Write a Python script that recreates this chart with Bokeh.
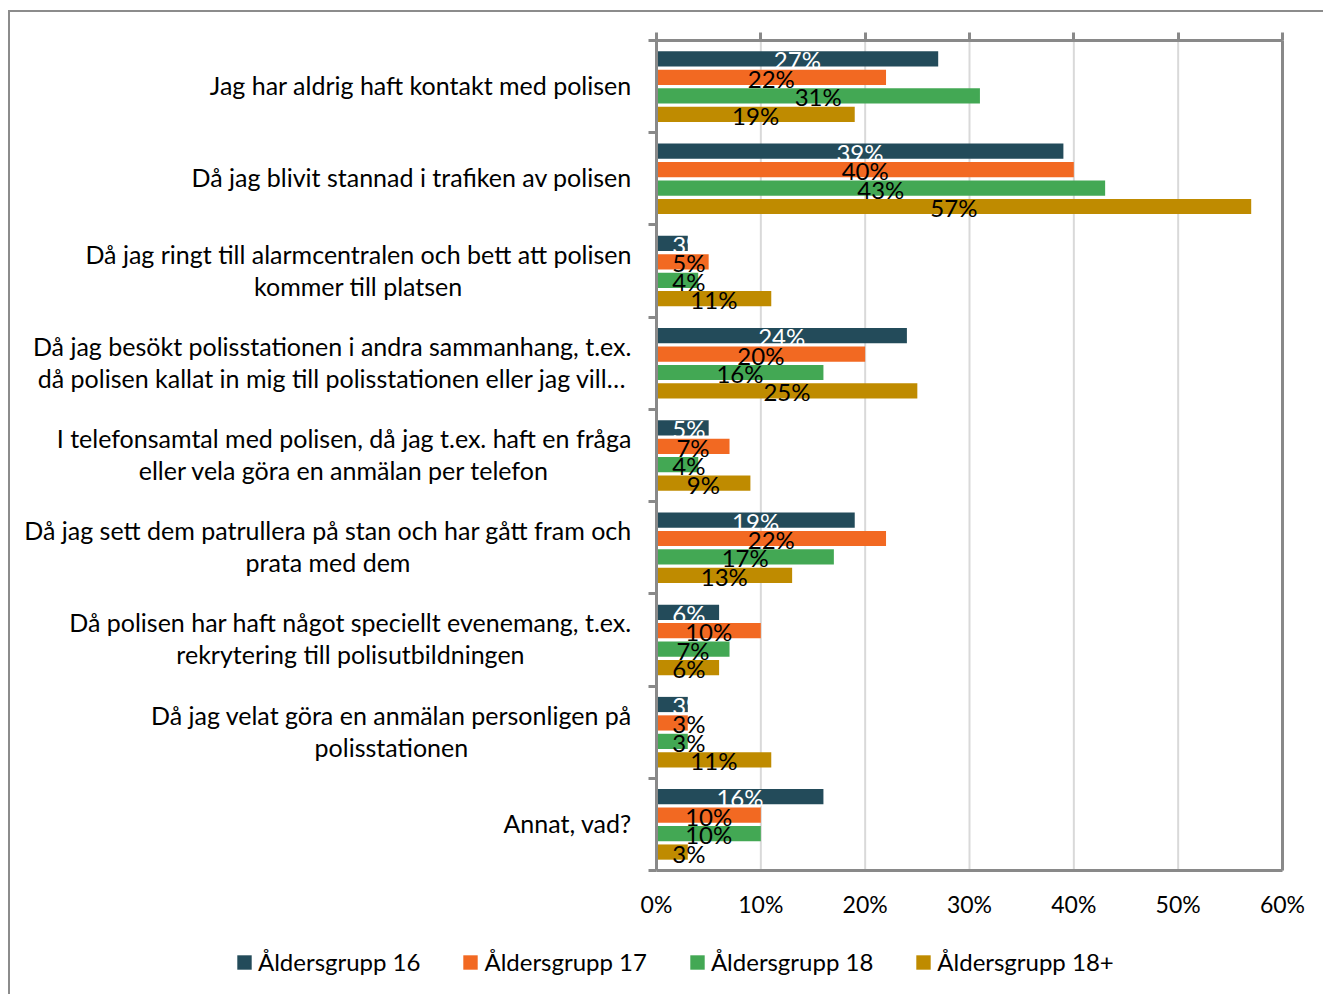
import glob
from bokeh.plotting import figure
from bokeh.models import (Range1d, FixedTicker, LinearAxis, ColumnDataSource, Legend, LegendItem)
from bokeh.core.properties import value
from bokeh.embed import file_html
from bokeh.resources import INLINE

categories = [
    "Jag har aldrig haft kontakt med polisen",
    "Då jag blivit stannad i trafiken av polisen",
    "Då jag ringt till alarmcentralen och bett att polisen\nkommer till platsen",
    "Då jag besökt polisstationen i andra sammanhang, t.ex.\ndå polisen kallat in mig till polisstationen eller jag vill…",
    "I telefonsamtal med polisen, då jag t.ex. haft en fråga\neller vela göra en anmälan per telefon",
    "Då jag sett dem patrullera på stan och har gått fram och\nprata med dem",
    "Då polisen har haft något speciellt evenemang, t.ex.\nrekrytering till polisutbildningen",
    "Då jag velat göra en anmälan personligen på\npolisstationen",
    "Annat, vad?",
]
series_names = ["Åldersgrupp 16", "Åldersgrupp 17", "Åldersgrupp 18", "Åldersgrupp 18+"]
age16 = [27, 39, 3, 24, 5, 19, 6, 3, 16]
age17 = [22, 40, 5, 20, 7, 22, 10, 3, 10]
age18 = [31, 43, 4, 16, 4, 17, 7, 3, 10]
age18p = [19, 57, 11, 25, 9, 13, 6, 11, 3]
x_ticks = [0, 10, 20, 30, 40, 50, 60]

colors = ["#234B5A", "#F26922", "#43A854", "#BF8B00"]
label_colors = ["white", "black", "black", "black"]
FONT = "Lato"
CAT_SIZE = 25
BAR_SIZE = 24
AXIS_SIZE = 23
LEG_SIZE = 24
GRAY = "#898989"
BORDER = "#8C8C8C"
GRID = "#D9D9D9"
LABEL_MIN_X = 3.1   # bar labels are kept clear of the axis line

# ---- text measurement (to right-align each label block with its lines centred) ----
_font = None
try:
    from PIL import ImageFont
    allf = glob.glob("/usr/share/fonts/**/*.ttf", recursive=True) + \
        glob.glob("/usr/local/share/fonts/**/*.ttf", recursive=True)
    cands = [f for f in allf if f.split("/")[-1].lower() in ("lato-regular.ttf", "lato-reg.ttf")]
    if not cands:
        cands = [f for f in allf if "lato" in f.lower() and "regular" in f.lower()]
    if cands:
        _font = ImageFont.truetype(cands[0], CAT_SIZE)
except Exception:
    _font = None


def text_width(s):
    if _font is not None:
        try:
            return _font.getlength(s)
        except Exception:
            pass
    return len(s) * CAT_SIZE * 0.48


n = len(categories)

# ---- geometry (pixels of the 1323x994 canvas) ----
W, H = 1323, 994
PL, PR, PT, PB = 656, 1282, 40, 870
XMAX = 60
x_range = Range1d(-PL * XMAX / (PR - PL), (W - PL) * XMAX / (PR - PL))
y_range = Range1d(n + (H - PB) * n / (PB - PT), -PT * n / (PB - PT))


def px_x(px):
    return (px - PL) * XMAX / (PR - PL)


def px_y(py):
    return (py - PT) * n / (PB - PT)


p = figure(width=W, height=H, output_backend="svg", toolbar_location=None, title=None,
           x_range=x_range, y_range=y_range, min_border=0)
p.background_fill_color = "white"
p.border_fill_color = "white"
p.outline_line_color = None
p.grid.visible = False

# outer chart border (only its left and top edges fall inside the picture)
p.segment(x0=[px_x(8.5), px_x(7.5)], y0=[px_y(9.5), px_y(10.5)],
          x1=[px_x(8.5), px_x(W)], y1=[px_y(H), px_y(10.5)],
          line_color=BORDER, line_width=2)

# vertical gridlines
gsrc = ColumnDataSource(dict(x=x_ticks, y0=[0] * len(x_ticks), y1=[n] * len(x_ticks)))
p.segment(x0="x", y0="y0", x1="x", y1="y1", source=gsrc, line_color=GRID, line_width=2)

# bottom axis (with labels)
xa = p.xaxis[0]
xa.fixed_location = n
xa.bounds = (0, XMAX)
xa.ticker = FixedTicker(ticks=x_ticks)
xa.major_label_overrides = {t_: f"{t_}%" for t_ in x_ticks}
xa.major_tick_out = 0
xa.major_tick_in = 0
xa.minor_tick_line_color = None
xa.axis_line_color = GRAY
xa.axis_line_width = 3
xa.major_label_text_font = FONT
xa.major_label_text_font_size = f"{AXIS_SIZE}px"
xa.major_label_text_color = "black"
xa.major_label_standoff = 19

# top axis (ticks only)
top = LinearAxis(ticker=FixedTicker(ticks=x_ticks), fixed_location=0, bounds=(0, XMAX))
top.major_label_text_font_size = "0px"
top.major_label_text_color = None
top.major_tick_out = 8
top.major_tick_in = 0
top.major_tick_line_color = GRAY
top.major_tick_line_width = 3
top.minor_tick_line_color = None
top.axis_line_color = GRAY
top.axis_line_width = 3
p.add_layout(top, "above")

# left axis (category separators)
ya = p.yaxis[0]
ya.fixed_location = 0
ya.bounds = (0, n)
ya.ticker = FixedTicker(ticks=list(range(n + 1)))
ya.major_label_text_font_size = "0px"
ya.major_label_text_color = None
ya.major_tick_out = 8
ya.major_tick_in = 0
ya.major_tick_line_color = GRAY
ya.major_tick_line_width = 3
ya.minor_tick_line_color = None
ya.axis_line_color = GRAY
ya.axis_line_width = 3

# right border of the plot area
ra = LinearAxis(fixed_location=XMAX, bounds=(0, n), ticker=FixedTicker(ticks=[]))
ra.major_label_text_font_size = "0px"
ra.major_label_text_color = None
ra.major_tick_line_color = None
ra.minor_tick_line_color = None
ra.axis_line_color = GRAY
ra.axis_line_width = 3
p.add_layout(ra, "right")

# bars and value labels
series = [age16, age17, age18, age18p]
items = []
for j, vals in enumerate(series):
    ys = [i + 0.2 * (j + 1) for i in range(n)]
    src = ColumnDataSource(dict(y=ys, v=vals, lx=[max(v / 2, LABEL_MIN_X) for v in vals],
                                lab=[f"{v}%" for v in vals]))
    r = p.hbar(y="y", right="v", left=0, height=0.165, source=src,
               fill_color=colors[j], line_color=None)
    items.append(LegendItem(label=series_names[j], renderers=[r]))
    p.text(x="lx", y="y", text="lab", source=src, text_align="center",
           text_baseline="middle", text_color=label_colors[j], y_offset=1,
           text_font=value(FONT), text_font_size=f"{BAR_SIZE}px")

# category labels, right edge 25px left of the axis
LABEL_GAP = 25
xo = [-LABEL_GAP - max(text_width(s) for s in c.split("\n")) / 2 for c in categories]
lsrc = ColumnDataSource(dict(x=[0] * n, y=[i + 0.5 for i in range(n)], xo=xo, text=categories))
p.text(x="x", y="y", x_offset="xo", y_offset=-1.5, text="text", source=lsrc, text_align="center",
       text_baseline="middle", text_font=value(FONT), text_font_size=f"{CAT_SIZE}px",
       text_color="black", text_line_height=1.07)

# legend
legend = Legend(items=items, orientation="horizontal", location=(235, 18),
                glyph_width=18, glyph_height=18, label_standoff=5, spacing=41,
                label_text_font=FONT, label_text_font_size=f"{LEG_SIZE}px",
                label_text_color="black",
                border_line_color=None, background_fill_alpha=0, margin=0, padding=0)
p.add_layout(legend, "center")

open("out.html", "w").write(file_html(p, INLINE))
